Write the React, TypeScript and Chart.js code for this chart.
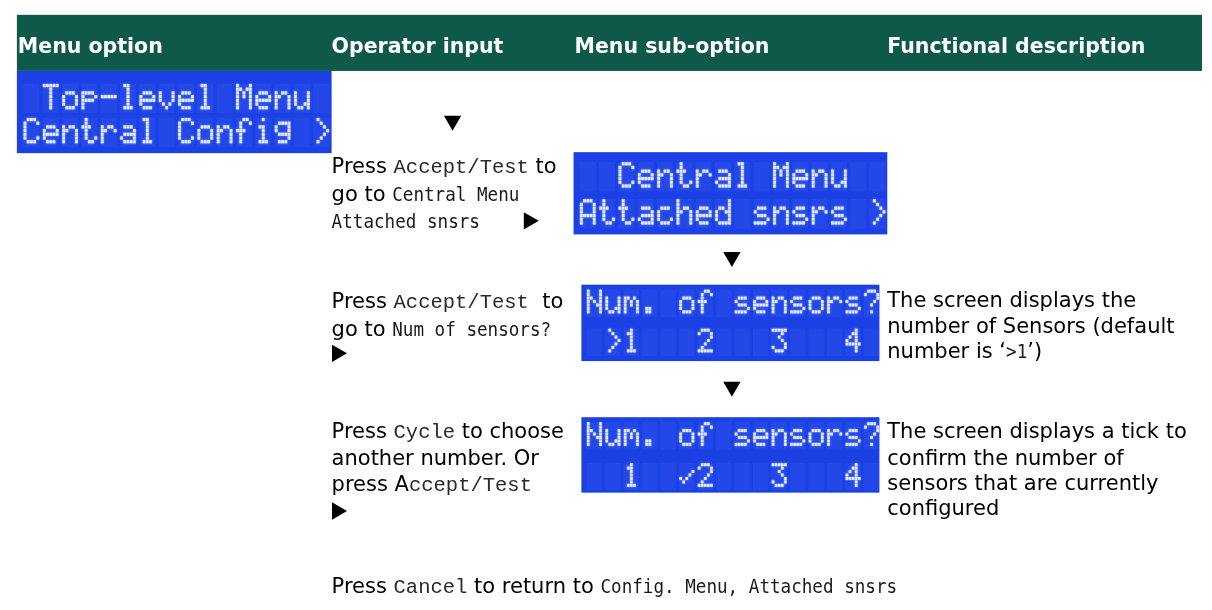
import React, { useEffect, useRef } from 'react';
import { Chart, registerables } from 'chart.js';

Chart.register(...registerables);

type Kind = 'b' | 'c' | 'n';
type Seg = [string, Kind];

// ---------- content ----------
const HEADERS = ['Menu option', 'Operator input', 'Menu sub-option', 'Functional description'];

const TOP_LCD = [' Top-level Menu ', 'Central Config >'];

const SUB_LCDS = [
  ['  Central Menu  ', 'Attached snsrs >'],
  ['Num. of sensors?', ' >1   2   3   4 '],
  ['Num. of sensors?', '  1  \u221A2   3   4 '],
];

const INPUTS: Seg[][][] = [
  [
    [['Press ', 'b'], ['Accept/Test', 'c'], [' to', 'b']],
    [['go to ', 'b'], ['Central Menu', 'n']],
    [['Attached snsrs', 'n']],
  ],
  [
    [['Press ', 'b'], ['Accept/Test', 'c'], ['  to', 'b']],
    [['go to ', 'b'], ['Num of sensors?', 'n']],
  ],
  [
    [['Press ', 'b'], ['Cycle', 'c'], [' to choose', 'b']],
    [['another number. Or', 'b']],
    [['press A', 'b'], ['ccept/Test', 'c']],
  ],
];

const DESCRIPTIONS: Seg[][][] = [
  [],
  [
    [['The screen displays the', 'b']],
    [['number of Sensors (default', 'b']],
    [['number is ', 'b'], ['\u2018', 'b'], ['>1', 'n'], ['\u2019)', 'b']],
  ],
  [
    [['The screen displays a tick to', 'b']],
    [['confirm the number of', 'b']],
    [['sensors that are currently', 'b']],
    [['configured', 'b']],
  ],
];

const FOOTER: Seg[] = [
  ['Press ', 'b'],
  ['Cancel', 'c'],
  [' to return to ', 'b'],
  ['Config. Menu, Attached snsrs', 'n'],
];

// ---------- layout (page coordinates) ----------
const W = 1212;
const H = 610;
const HEADER = { left: 7, top: 5, bottom: 63, baseline: 44 };
const COL_X = [8, 327, 574, 892];
const INPUT_BASELINES = [[169, 197, 225], [308, 337], [442, 470, 497]];
const DESC_BASELINES = [[], [307, 334, 360], [443, 470, 496, 522]];
const FOOTER_BASELINE = 603;

const LCD_BOXES = [
  { x: 7, y: 63, w: 320, h: 85, px: 3.22, py: 3.7, offX: 6.7, rows: [13, 47] },
  { x: 573, y: 147, w: 319, h: 85, px: 3.22, py: 3.7, offX: 6.4, rows: [10, 47] },
  { x: 581, y: 284, w: 303, h: 79, px: 3.08, py: 3.45, offX: 5.5, rows: [5, 44] },
  { x: 581, y: 421, w: 303, h: 78, px: 3.08, py: 3.45, offX: 5.5, rows: [5, 46] },
];

const DOWN_ARROWS = [
  { x: 450, y: 117 },
  { x: 734, y: 258 },
  { x: 734, y: 392 },
];
const RIGHT_ARROWS = [
  { x: 530, y: 218 },
  { x: 335, y: 355 },
  { x: 335, y: 518 },
];

// ---------- 5x7 dot-matrix glyphs ----------
const GLYPHS: Record<string, string[]> = {
  ' ': ['00000', '00000', '00000', '00000', '00000', '00000', '00000'],
  T: ['11111', '00100', '00100', '00100', '00100', '00100', '00100'],
  o: ['00000', '00000', '01110', '10001', '10001', '10001', '01110'],
  p: ['00000', '00000', '11110', '10001', '11110', '10000', '10000'],
  '-': ['00000', '00000', '00000', '11111', '00000', '00000', '00000'],
  l: ['01100', '00100', '00100', '00100', '00100', '00100', '01110'],
  e: ['00000', '00000', '01110', '10001', '11111', '10000', '01110'],
  v: ['00000', '00000', '10001', '10001', '10001', '01010', '00100'],
  M: ['10001', '11011', '10101', '10101', '10001', '10001', '10001'],
  n: ['00000', '00000', '10110', '11001', '10001', '10001', '10001'],
  u: ['00000', '00000', '10001', '10001', '10001', '10011', '01101'],
  C: ['01110', '10001', '10000', '10000', '10000', '10001', '01110'],
  t: ['01000', '01000', '11100', '01000', '01000', '01001', '00110'],
  r: ['00000', '00000', '10110', '11001', '10000', '10000', '10000'],
  a: ['00000', '00000', '01110', '00001', '01111', '10001', '01111'],
  f: ['00110', '01001', '01000', '11100', '01000', '01000', '01000'],
  i: ['00100', '00000', '01100', '00100', '00100', '00100', '01110'],
  g: ['00000', '01111', '10001', '10001', '01111', '00001', '01110'],
  '>': ['01000', '00100', '00010', '00001', '00010', '00100', '01000'],
  A: ['01110', '10001', '10001', '10001', '11111', '10001', '10001'],
  c: ['00000', '00000', '01110', '10000', '10000', '10001', '01110'],
  h: ['10000', '10000', '10110', '11001', '10001', '10001', '10001'],
  d: ['00001', '00001', '01101', '10011', '10001', '10001', '01111'],
  s: ['00000', '00000', '01110', '10000', '01110', '00001', '11110'],
  N: ['10001', '10001', '11001', '10101', '10011', '10001', '10001'],
  m: ['00000', '00000', '11010', '10101', '10101', '10001', '10001'],
  '.': ['00000', '00000', '00000', '00000', '00000', '01100', '01100'],
  '?': ['01110', '10001', '00001', '00010', '00100', '00000', '00100'],
  '1': ['00100', '01100', '00100', '00100', '00100', '00100', '01110'],
  '2': ['01110', '10001', '00001', '00010', '00100', '01000', '11111'],
  '3': ['11111', '00010', '00100', '00010', '00001', '10001', '01110'],
  '4': ['00010', '00110', '01010', '10010', '11111', '00010', '00010'],
  '\u221A': ['00000', '00000', '00001', '00010', '10100', '01000', '00000'],
};

// ---------- fonts ----------
const FONT_HEAD = 'bold 20.5px "DejaVu Sans"';
const FONT_BODY = '21px "DejaVu Sans"';
const FONT_CODE = '20.5px "Liberation Mono"';
const FONT_NARROW = '20px "DejaVu Sans Mono"';
const NARROW_SCALE = 0.88;

function drawSegs(ctx: CanvasRenderingContext2D, segs: Seg[], x: number, y: number) {
  let cx = x;
  for (const [text, kind] of segs) {
    if (kind === 'n') {
      ctx.font = FONT_NARROW;
      ctx.fillStyle = '#1a1a1a';
      const w = ctx.measureText(text).width * NARROW_SCALE;
      ctx.save();
      ctx.translate(cx, y);
      ctx.scale(NARROW_SCALE, 1);
      ctx.fillText(text, 0, 0);
      ctx.restore();
      cx += w;
    } else {
      ctx.font = kind === 'c' ? FONT_CODE : FONT_BODY;
      ctx.fillStyle = kind === 'c' ? '#2a2a2a' : '#000000';
      ctx.fillText(text, cx, y);
      cx += ctx.measureText(text).width;
    }
  }
}

function drawLCD(
  ctx: CanvasRenderingContext2D,
  box: (typeof LCD_BOXES)[number],
  lines: string[],
  sx: (v: number) => number,
  sy: (v: number) => number
) {
  const x0 = sx(box.x);
  const y0 = sy(box.y);
  const x1 = sx(box.x + box.w);
  const y1 = sy(box.y + box.h);
  ctx.fillStyle = '#1b40e4';
  ctx.fillRect(x0, y0, x1 - x0, y1 - y0);
  const { px, py } = box;
  // unlit cells first (subtle)
  lines.forEach((_, r) => {
    const top = y0 + box.rows[r];
    for (let c = 0; c < 16; c++) {
      const left = x0 + box.offX + c * 6 * px;
      ctx.fillStyle = 'rgba(90,130,255,0.13)';
      ctx.fillRect(left - 0.3, top - 0.3, 5 * px, 8 * py);
    }
  });
  // lit dots with a soft glow
  ctx.save();
  ctx.shadowColor = 'rgba(215,228,255,0.75)';
  ctx.shadowBlur = 2;
  ctx.fillStyle = '#e3eaff';
  lines.forEach((line, r) => {
    const top = y0 + box.rows[r];
    for (let c = 0; c < 16; c++) {
      const ch = line[c] ?? ' ';
      const g = GLYPHS[ch] ?? GLYPHS[' '];
      const left = x0 + box.offX + c * 6 * px;
      for (let j = 0; j < 7; j++) {
        for (let i = 0; i < 5; i++) {
          if (g[j][i] === '1') ctx.fillRect(left + i * px, top + j * py, px * 0.86, py * 0.86);
        }
      }
    }
  });
  ctx.restore();
}

const tablePlugin = {
  id: 'menuTable',
  beforeDatasetsDraw(chart: any) {
    const ctx: CanvasRenderingContext2D = chart.ctx;
    const xs = chart.scales.x;
    const ys = chart.scales.y;
    const sx = (v: number) => xs.getPixelForValue(v);
    const sy = (v: number) => ys.getPixelForValue(v);
    ctx.save();
    ctx.textBaseline = 'alphabetic';
    ctx.textAlign = 'left';

    // header
    ctx.fillStyle = '#0f594b';
    ctx.fillRect(sx(HEADER.left), sy(HEADER.top), sx(W) - sx(HEADER.left), sy(HEADER.bottom) - sy(HEADER.top));
    ctx.font = FONT_HEAD;
    ctx.fillStyle = '#ffffff';
    HEADERS.forEach((h, i) => ctx.fillText(h, sx(COL_X[i]), sy(HEADER.baseline)));

    // LCD panels
    drawLCD(ctx, LCD_BOXES[0], TOP_LCD, sx, sy);
    SUB_LCDS.forEach((lines, i) => drawLCD(ctx, LCD_BOXES[i + 1], lines, sx, sy));

    // operator input text
    INPUTS.forEach((rows, r) =>
      rows.forEach((segs, k) => drawSegs(ctx, segs, sx(COL_X[1]), sy(INPUT_BASELINES[r][k])))
    );
    // descriptions
    DESCRIPTIONS.forEach((rows, r) =>
      rows.forEach((segs, k) => drawSegs(ctx, segs, sx(COL_X[3]), sy(DESC_BASELINES[r][k])))
    );
    // footer
    drawSegs(ctx, FOOTER, sx(COL_X[1]), sy(FOOTER_BASELINE));
    ctx.restore();
  },
};

export default function App() {
  const ref = useRef<HTMLCanvasElement | null>(null);
  useEffect(() => {
    document.body.style.margin = '0';
    const canvas = ref.current;
    if (!canvas) return;
    const r = 10;
    const chart = new Chart(canvas, {
      type: 'scatter',
      data: {
        datasets: [
          {
            data: DOWN_ARROWS.map((p) => ({ x: p.x, y: p.y - r / 4 })),
            pointStyle: 'triangle',
            rotation: 180,
            radius: r,
            backgroundColor: '#000',
            borderWidth: 0,
          },
          {
            data: RIGHT_ARROWS.map((p) => ({ x: p.x - r / 4, y: p.y })),
            pointStyle: 'triangle',
            rotation: 90,
            radius: r,
            backgroundColor: '#000',
            borderWidth: 0,
          },
        ],
      },
      options: {
        responsive: false,
        animation: false,
        events: [],
        layout: { padding: 0 },
        plugins: { legend: { display: false }, tooltip: { enabled: false } },
        scales: {
          x: { type: 'linear', min: 0, max: W, display: false },
          y: { type: 'linear', min: 0, max: H, reverse: true, display: false },
        },
      },
      plugins: [tablePlugin],
    } as any);
    return () => chart.destroy();
  }, []);
  return <canvas ref={ref} width={W} height={H} style={{ display: 'block' }} />;
}
